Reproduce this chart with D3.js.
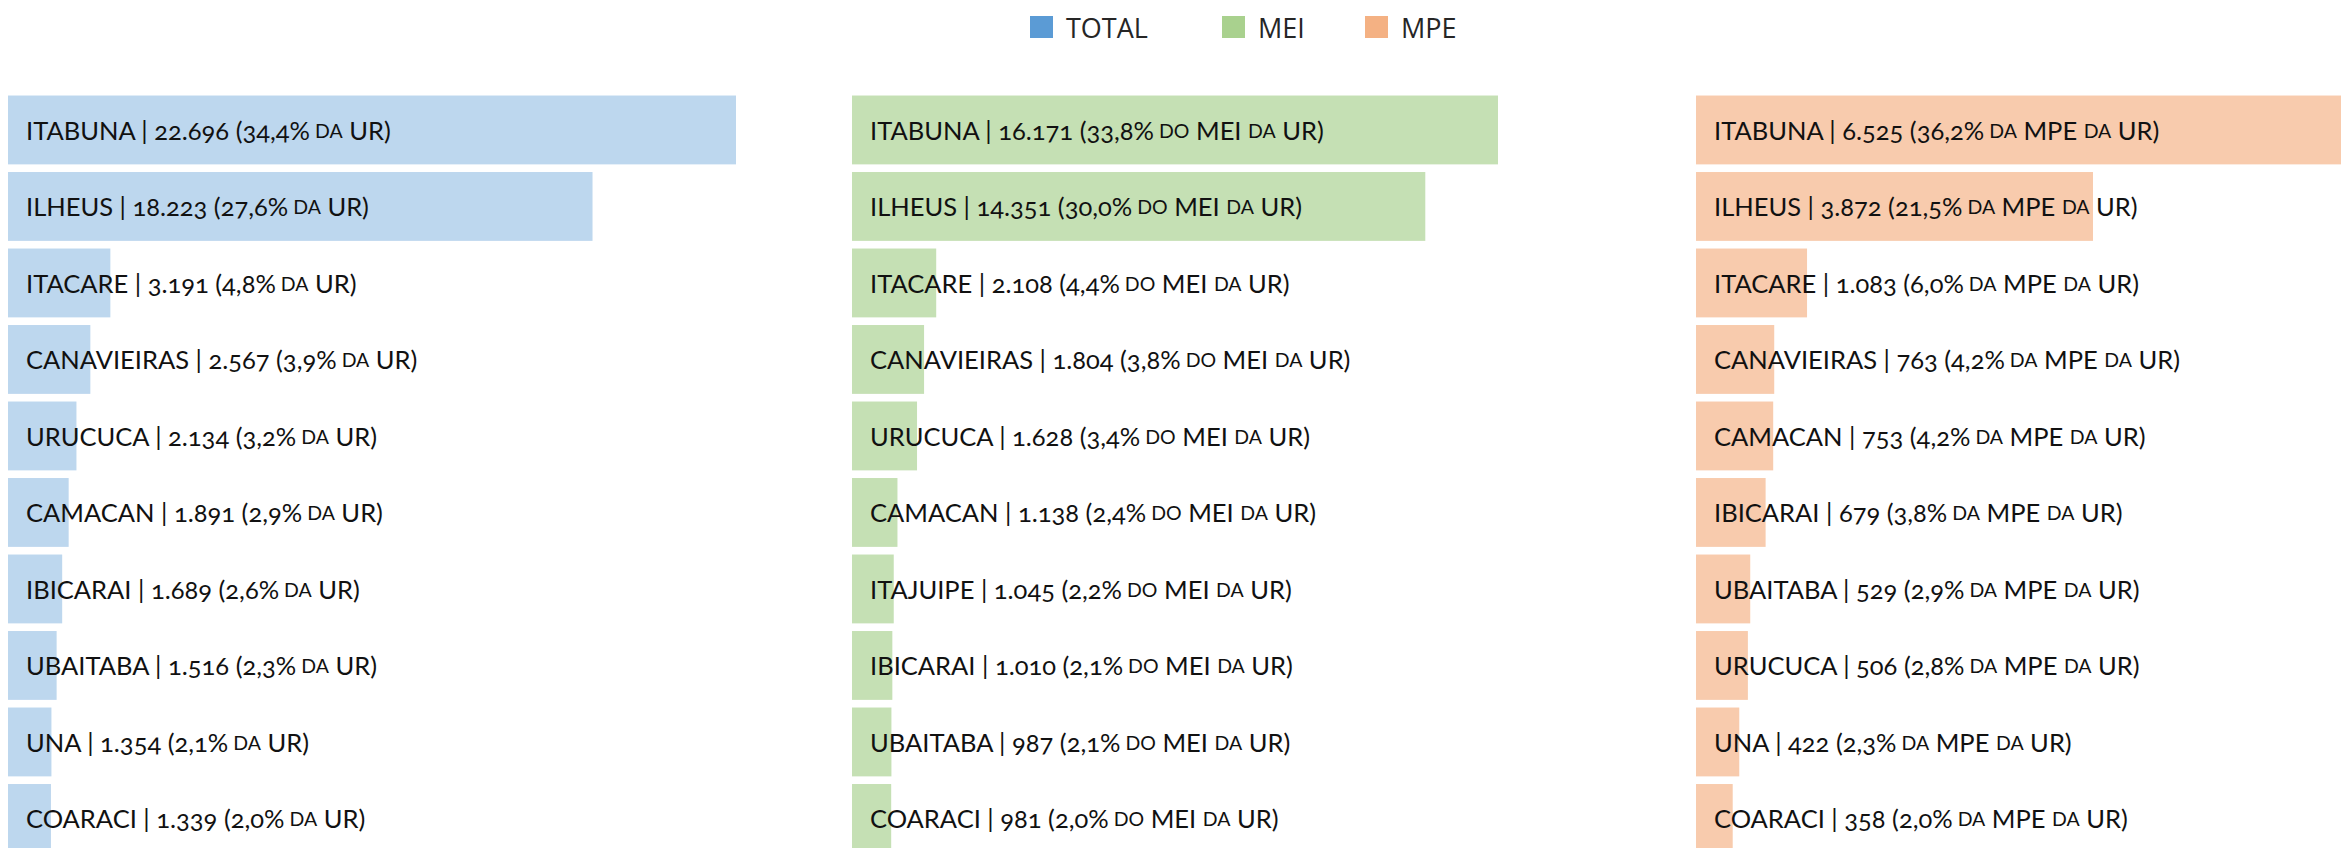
<!DOCTYPE html>
<html>
<head>
<meta charset="utf-8">
<script src="https://cdn.jsdelivr.net/npm/d3@7"></script>
<style>
  html, body { margin: 0; padding: 0; background: #fff; }
  svg { display: block; }
  .lbl { font-family: Lato, "Open Sans", sans-serif; fill: #111; font-variant-numeric: oldstyle-nums; }
  .leg { font-family: "Open Sans", Lato, sans-serif; fill: #262626; }
</style>
</head>
<body>
<svg id="chart" width="2341" height="848"></svg>
<script>
// Ranking of municipalities by number of businesses, three groups
const seriesNames = ["TOTAL", "MEI", "MPE"];
const legendColors = ["#5B9BD5", "#A9D18E", "#F4B183"];
const barColors = ["#BDD7EE", "#C5E0B4", "#F8CBAD"];

const totalCities = ["ITABUNA", "ILHEUS", "ITACARE", "CANAVIEIRAS", "URUCUCA", "CAMACAN", "IBICARAI", "UBAITABA", "UNA", "COARACI"];
const totalValues = [22696, 18223, 3191, 2567, 2134, 1891, 1689, 1516, 1354, 1339];
const totalShares = [34.4, 27.6, 4.8, 3.9, 3.2, 2.9, 2.6, 2.3, 2.1, 2.0];

const meiCities = ["ITABUNA", "ILHEUS", "ITACARE", "CANAVIEIRAS", "URUCUCA", "CAMACAN", "ITAJUIPE", "IBICARAI", "UBAITABA", "COARACI"];
const meiValues = [16171, 14351, 2108, 1804, 1628, 1138, 1045, 1010, 987, 981];
const meiShares = [33.8, 30.0, 4.4, 3.8, 3.4, 2.4, 2.2, 2.1, 2.1, 2.0];

const mpeCities = ["ITABUNA", "ILHEUS", "ITACARE", "CANAVIEIRAS", "CAMACAN", "IBICARAI", "UBAITABA", "URUCUCA", "UNA", "COARACI"];
const mpeValues = [6525, 3872, 1083, 763, 753, 679, 529, 506, 422, 358];
const mpeShares = [36.2, 21.5, 6.0, 4.2, 4.2, 3.8, 2.9, 2.8, 2.3, 2.0];

// Label suffix pieces: [normal text, small-caps text] pairs after the percentage
const suffixes = [
  [["", "DA"], [" UR)", ""]],
  [["", "DO"], [" MEI ", "DA"], [" UR)", ""]],
  [["", "DA"], [" MPE ", "DA"], [" UR)", ""]]
];

const panels = [
  { cities: totalCities, values: totalValues, shares: totalShares },
  { cities: meiCities, values: meiValues, shares: meiShares },
  { cities: mpeCities, values: mpeValues, shares: mpeShares }
];

const locale = d3.formatLocale({ decimal: ",", thousands: ".", grouping: [3], currency: ["R$", ""] });
const fmtInt = locale.format(",d");
const fmtPct = locale.format(".1f");

const svg = d3.select("#chart");

// Legend
const legend = svg.append("g");
const legendX = [1030, 1222, 1365];
seriesNames.forEach((name, i) => {
  const g = legend.append("g").attr("transform", `translate(${legendX[i]},16)`);
  g.append("rect").attr("width", 23).attr("height", 22).attr("fill", legendColors[i]);
  g.append("text").attr("class", "leg").attr("x", 36).attr("y", 11)
    .attr("dominant-baseline", "central").attr("font-size", 27).text(name);
});

// Panel geometry
const panelLeft = [8, 852, 1696];
const panelSpan = [728, 646, 669];
const rowsTop = 91.7, rowStep = 76.5;

panels.forEach((p, pi) => {
  const x = d3.scaleLinear().domain([0, d3.max(p.values)]).range([0, panelSpan[pi]]);
  const y = d3.scaleBand().domain(p.cities)
    .range([rowsTop, rowsTop + rowStep * p.cities.length]).paddingInner(0.1).paddingOuter(0.05);

  const g = svg.append("g").attr("transform", `translate(${panelLeft[pi]},0)`);

  g.selectAll("rect.bar").data(p.cities).join("rect")
    .attr("class", "bar")
    .attr("x", x(0))
    .attr("y", d => y(d))
    .attr("width", (d, i) => x(p.values[i]) - x(0))
    .attr("height", y.bandwidth())
    .attr("fill", barColors[pi]);

  const labels = g.selectAll("text.lbl").data(p.cities).join("text")
    .attr("class", "lbl")
    .attr("x", 18)
    .attr("y", d => y(d) + y.bandwidth() / 2)
    .attr("dominant-baseline", "central")
    .attr("font-size", 25.5);

  labels.each(function(d, i) {
    const t = d3.select(this);
    t.append("tspan").text(`${d} | ${fmtInt(p.values[i])} (${fmtPct(p.shares[i])}%`);
    suffixes[pi].forEach(([normal, small]) => {
      if (normal) t.append("tspan").text(normal);
      if (small) t.append("tspan").attr("font-size", 19.5).text(" " + small);
    });
  });
});
</script>
</body>
</html>
